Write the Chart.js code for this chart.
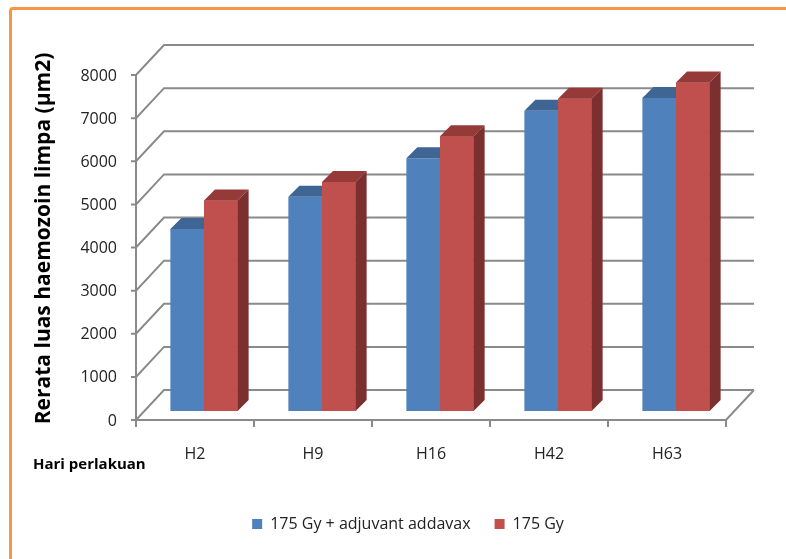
<!DOCTYPE html>
<html>
<head>
<meta charset="utf-8">
<script src="https://cdn.jsdelivr.net/npm/chart.js@4.4.0/dist/chart.umd.min.js"></script>
<style>
  html, body { margin: 0; padding: 0; background: #fff; overflow: hidden; }
  #frame { position: absolute; left: 9px; top: 7px; width: 900px; height: 700px; border: 3px solid #f79646; border-radius: 4px; }
  #chart { position: absolute; left: 0; top: 0; }
</style>
</head>
<body>
<div id="frame"></div>
<canvas id="chart" width="786" height="559"></canvas>
<script>
// data
const categories = ['H2', 'H9', 'H16', 'H42', 'H63'];
const adjuvantValues = [4220, 4970, 5860, 6960, 7260];
const gyValues = [4880, 5310, 6370, 7240, 7620];
const yTicks = [0, 1000, 2000, 3000, 4000, 5000, 6000, 7000, 8000];
const seriesNames = ['175 Gy + adjuvant addavax', '175 Gy'];
const yTitle = 'Rerata luas haemozoin limpa (µm2)';
const xTitle = 'Hari perlakuan';

// fake 3D: offsets from the bar plane to the front edge / back wall, and bar depth
const FRONT = { dx: -9, dy: 9 };
const BACK = { dx: 19, dy: -21 };
const DEPTH = { dx: 11, dy: -11 };
const faceColors = [
    { top: '#3e6593', side: '#36587f' },
    { top: '#953a38', side: '#7b302f' }
];

function drawFaces(ctx, bars, colors) {
    bars.forEach(bar => {
        const { x, y, width, base } = bar.getProps(['x', 'y', 'width', 'base'], true);
        const l = x - width / 2, r = x + width / 2;
        ctx.fillStyle = colors.top;
        ctx.beginPath();
        ctx.moveTo(l, y);
        ctx.lineTo(l + DEPTH.dx, y + DEPTH.dy);
        ctx.lineTo(r + DEPTH.dx, y + DEPTH.dy);
        ctx.lineTo(r, y);
        ctx.closePath();
        ctx.fill();
        ctx.fillStyle = colors.side;
        ctx.beginPath();
        ctx.moveTo(r, y);
        ctx.lineTo(r + DEPTH.dx, y + DEPTH.dy);
        ctx.lineTo(r + DEPTH.dx, base + DEPTH.dy);
        ctx.lineTo(r, base);
        ctx.closePath();
        ctx.fill();
    });
}

const wallsPlugin = {
    id: 'walls',
    beforeDatasetsDraw(chart) {
        const { ctx, chartArea: a, scales: { y } } = chart;
        const fx = a.left + FRONT.dx;
        const y0 = y.getPixelForValue(0);
        const yTop = y.getPixelForValue(yTicks[yTicks.length - 1]);
        ctx.save();
        ctx.strokeStyle = '#8a8a8a';
        ctx.lineWidth = 2;
        yTicks.forEach(v => {
            const py = y.getPixelForValue(v);
            ctx.beginPath();
            ctx.moveTo(fx - 5, py + FRONT.dy);
            ctx.lineTo(fx, py + FRONT.dy);
            ctx.lineTo(a.left + BACK.dx, py + BACK.dy);
            ctx.lineTo(a.right + BACK.dx, py + BACK.dy);
            ctx.stroke();
        });
        // front axis
        ctx.beginPath();
        ctx.moveTo(fx, yTop + FRONT.dy);
        ctx.lineTo(fx, y0 + FRONT.dy + 7);
        ctx.stroke();
        // floor edges
        ctx.beginPath();
        ctx.moveTo(fx, y0 + FRONT.dy);
        ctx.lineTo(a.right + FRONT.dx, y0 + FRONT.dy);
        ctx.lineTo(a.right + BACK.dx, y0 + BACK.dy);
        ctx.stroke();
        // category tick marks
        const step = (a.right - a.left) / categories.length;
        for (let i = 1; i <= categories.length; i++) {
            const px = a.left + i * step + FRONT.dx;
            ctx.beginPath();
            ctx.moveTo(px, y0 + FRONT.dy);
            ctx.lineTo(px, y0 + FRONT.dy + 7);
            ctx.stroke();
        }
        ctx.restore();
    },
    afterDatasetsDraw(chart) {
        const ctx = chart.ctx;
        ctx.save();
        // blue faces first, then repaint the red fronts over them, then red faces
        chart.data.datasets.forEach((ds, i) => {
            const bars = chart.getDatasetMeta(i).data;
            if (i > 0) bars.forEach(bar => bar.draw(ctx));
            drawFaces(ctx, bars, faceColors[i]);
        });
        ctx.restore();
    },
    afterDraw(chart) {
        const ctx = chart.ctx;
        ctx.save();
        ctx.font = "bold 15px 'Open Sans'";
        ctx.fillStyle = '#000';
        ctx.textBaseline = 'middle';
        ctx.fillText(xTitle, 33, 465);
        ctx.restore();
    }
};

Chart.defaults.font.family = "'Open Sans', sans-serif";

new Chart(document.getElementById('chart').getContext('2d'), {
    type: 'bar',
    data: {
        labels: categories,
        datasets: [
            { label: seriesNames[0], data: adjuvantValues, backgroundColor: '#4f81bd' },
            { label: seriesNames[1], data: gyValues, backgroundColor: '#c0504d' }
        ]
    },
    options: {
        responsive: false,
        animation: false,
        categoryPercentage: 0.57,
        barPercentage: 1,
        layout: { padding: { left: 30, right: 0, top: 66, bottom: 17 } },
        plugins: {
            tooltip: { enabled: false },
            legend: {
                position: 'bottom',
                labels: {
                    boxWidth: 10, boxHeight: 10, padding: 24,
                    font: { size: 16 }, color: '#222'
                }
            }
        },
        scales: {
            x: {
                grid: { display: false, drawTicks: false },
                border: { display: false },
                ticks: { labelOffset: -9, padding: 34, font: { size: 16 }, color: '#222' },
                afterFit: s => { s.height = 81; }
            },
            y: {
                min: 0, max: 8000,
                grid: { display: false, drawTicks: false },
                border: { display: false },
                ticks: { stepSize: 1000, labelOffset: 10, padding: 28, font: { size: 16 }, color: '#222', callback: v => String(v) },
                title: { display: true, text: yTitle, font: { size: 21, weight: 'bold' }, color: '#000', padding: { top: 1, bottom: 0 } },
                afterFit: s => { s.width = 115; }
            },
            // empty right axis, only keeps room for the back wall
            yRight: {
                position: 'right',
                grid: { display: false },
                border: { display: false },
                ticks: { display: false },
                afterFit: s => { s.width = 51; }
            }
        }
    },
    plugins: [wallsPlugin]
});
</script>
</body>
</html>
